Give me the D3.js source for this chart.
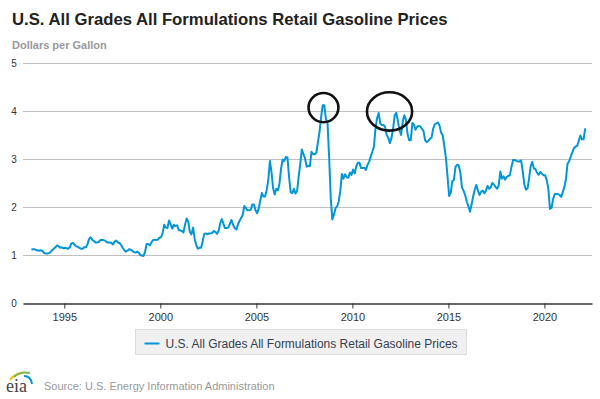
<!DOCTYPE html>
<html>
<head>
<meta charset="utf-8">
<script src="https://cdn.jsdelivr.net/npm/d3@7"></script>
<style>
  body { margin: 0; background: #fff; }
  svg { display: block; font-family: "Liberation Sans", Arial, sans-serif; }
</style>
</head>
<body>
<div id="chart"></div>
<script>
var chartTitle = "U.S. All Grades All Formulations Retail Gasoline Prices";
var unitLabel = "Dollars per Gallon";
var seriesName = "U.S. All Grades All Formulations Retail Gasoline Prices";
var sourceText = "Source: U.S. Energy Information Administration";

// monthly averages, first value is April 1993
var firstYear = 1993, firstMonth = 3;
var prices = [
  /*1993*/ 1.11, 1.12, 1.12, 1.10, 1.10, 1.09, 1.10, 1.08, 1.04,
  /*1994*/ 1.03, 1.03, 1.04, 1.06, 1.10, 1.13, 1.16, 1.20, 1.18, 1.15, 1.16, 1.14,
  /*1995*/ 1.15, 1.14, 1.13, 1.16, 1.24, 1.25, 1.21, 1.18, 1.17, 1.15, 1.13, 1.13,
  /*1996*/ 1.16, 1.16, 1.22, 1.33, 1.37, 1.32, 1.29, 1.26, 1.26, 1.27, 1.31, 1.31,
  /*1997*/ 1.31, 1.30, 1.27, 1.26, 1.26, 1.25, 1.22, 1.28, 1.30, 1.26, 1.25, 1.21,
  /*1998*/ 1.15, 1.10, 1.07, 1.09, 1.12, 1.11, 1.09, 1.06, 1.05, 1.07, 1.05, 1.00,
  /*1999*/ 0.99, 0.98, 1.06, 1.23, 1.23, 1.20, 1.26, 1.31, 1.32, 1.31, 1.32, 1.36,
  /*2000*/ 1.37, 1.46, 1.63, 1.57, 1.56, 1.72, 1.64, 1.55, 1.63, 1.60, 1.62, 1.52,
  /*2001*/ 1.51, 1.50, 1.47, 1.63, 1.76, 1.70, 1.48, 1.43, 1.57, 1.34, 1.20, 1.13,
  /*2002*/ 1.15, 1.15, 1.28, 1.44, 1.45, 1.43, 1.45, 1.45, 1.46, 1.50, 1.48, 1.44,
  /*2003*/ 1.51, 1.67, 1.75, 1.65, 1.56, 1.56, 1.57, 1.65, 1.73, 1.63, 1.56, 1.53,
  /*2004*/ 1.63, 1.71, 1.77, 1.83, 2.02, 1.98, 1.93, 1.93, 1.94, 2.05, 2.05, 1.93,
  /*2005*/ 1.87, 1.97, 2.13, 2.29, 2.22, 2.22, 2.35, 2.56, 2.96, 2.73, 2.39, 2.26,
  /*2006*/ 2.38, 2.35, 2.48, 2.80, 2.99, 2.96, 3.04, 3.03, 2.62, 2.31, 2.29, 2.38,
  /*2007*/ 2.28, 2.34, 2.62, 2.90, 3.20, 3.10, 3.01, 2.84, 2.86, 2.85, 3.15, 3.10,
  /*2008*/ 3.10, 3.13, 3.34, 3.56, 3.86, 4.12, 4.12, 3.83, 3.75, 3.05, 2.19, 1.74,
  /*2009*/ 1.84, 1.98, 2.01, 2.11, 2.33, 2.69, 2.59, 2.68, 2.62, 2.61, 2.72, 2.67,
  /*2010*/ 2.78, 2.70, 2.85, 2.92, 2.92, 2.81, 2.81, 2.82, 2.77, 2.88, 2.94, 3.05,
  /*2011*/ 3.15, 3.26, 3.62, 3.85, 3.96, 3.74, 3.71, 3.71, 3.67, 3.50, 3.44, 3.33,
  /*2012*/ 3.44, 3.64, 3.91, 3.96, 3.79, 3.60, 3.50, 3.78, 3.91, 3.82, 3.52, 3.39,
  /*2013*/ 3.39, 3.75, 3.72, 3.61, 3.67, 3.69, 3.68, 3.63, 3.58, 3.39, 3.35, 3.38,
  /*2014*/ 3.42, 3.45, 3.62, 3.72, 3.74, 3.76, 3.70, 3.55, 3.49, 3.27, 3.02, 2.64,
  /*2015*/ 2.23, 2.30, 2.54, 2.56, 2.83, 2.88, 2.87, 2.73, 2.41, 2.34, 2.25, 2.12,
  /*2016*/ 2.02, 1.90, 2.04, 2.22, 2.36, 2.46, 2.34, 2.25, 2.32, 2.34, 2.29, 2.34,
  /*2017*/ 2.44, 2.38, 2.41, 2.50, 2.47, 2.42, 2.38, 2.45, 2.74, 2.59, 2.64, 2.57,
  /*2018*/ 2.63, 2.65, 2.66, 2.84, 2.98, 2.98, 2.96, 2.95, 2.95, 2.97, 2.74, 2.47,
  /*2019*/ 2.36, 2.39, 2.59, 2.85, 2.94, 2.80, 2.79, 2.71, 2.67, 2.73, 2.69, 2.66,
  /*2020*/ 2.66, 2.55, 2.39, 1.96, 1.98, 2.17, 2.27, 2.27, 2.27, 2.25, 2.21, 2.31,
  /*2021*/ 2.42, 2.59, 2.90, 2.95, 3.05, 3.14, 3.22, 3.26, 3.27, 3.38, 3.49, 3.41,
  /*2022*/ 3.41, 3.64
];
var yTicks = [0, 1, 2, 3, 4, 5];
var xTickYears = [1995, 2000, 2005, 2010, 2015, 2020];
// periods circled by hand on the chart
var highlights = [["2007-09-20", "2009-04-10"], ["2010-10-05", "2013-02-10"]];

var width = 600, height = 399;
var margin = { top: 63, right: 8, bottom: 96, left: 23 };

var svg = d3.select("#chart").append("svg")
  .attr("width", width)
  .attr("height", height);

var data = prices.map(function (v, i) {
  return { date: new Date(firstYear, firstMonth + i, 15), value: v };
});

var x = d3.scaleTime()
  .domain([new Date(1992, 10, 6), new Date(2022, 5, 24)])
  .range([margin.left, width - margin.right]);

var y = d3.scaleLinear()
  .domain([0, 5])
  .range([height - margin.bottom, margin.top]);

// title
svg.append("text")
  .attr("x", 12).attr("y", 25)
  .style("font-size", "16.7px").style("font-weight", "bold")
  .style("fill", "#222")
  .text(chartTitle);

svg.append("text")
  .attr("x", 12).attr("y", 49)
  .style("font-size", "11px").style("font-weight", "bold")
  .style("fill", "#999")
  .text(unitLabel);

// grid + y labels
svg.append("g")
  .selectAll("line")
  .data(yTicks.filter(function (d) { return d > 0; }))
  .enter().append("line")
  .attr("x1", margin.left).attr("x2", width - margin.right)
  .attr("y1", function (d) { return y(d) + 0.5; })
  .attr("y2", function (d) { return y(d) + 0.5; })
  .style("stroke", "#c0c0c0").style("stroke-width", 1);

svg.append("g")
  .selectAll("text")
  .data(yTicks)
  .enter().append("text")
  .attr("x", 14)
  .attr("y", function (d) { return y(d) + 4; })
  .attr("text-anchor", "middle")
  .style("font-size", "10px").style("fill", "#333")
  .text(function (d) { return d; });

// x axis
var xAxis = svg.append("g")
  .attr("transform", "translate(0," + (y(0) + 0.5) + ")")
  .call(d3.axisBottom(x)
    .tickValues(xTickYears.map(function (yr) { return new Date(yr, 0, 1); }))
    .tickFormat(d3.timeFormat("%Y"))
    .tickSize(5)
    .tickSizeOuter(0));
xAxis.select(".domain").style("stroke", "#333").style("stroke-width", 1.3);
xAxis.selectAll(".tick line").style("stroke", "#333");
xAxis.selectAll(".tick text")
  .attr("dy", "0.9em")
  .style("font-size", "11px").style("fill", "#333")
  .style("font-family", "Liberation Sans, Arial, sans-serif");

// series line
var line = d3.line()
  .x(function (d) { return x(d.date); })
  .y(function (d) { return y(d.value); });

svg.append("path")
  .datum(data)
  .attr("d", line)
  .style("fill", "none")
  .style("stroke", "#0096d7")
  .style("stroke-width", 2)
  .style("stroke-linejoin", "round");

// hand drawn circles around the peaks
highlights.forEach(function (h) {
  var span = data.filter(function (d) {
    return d.date >= new Date(h[0]) && d.date <= new Date(h[1]);
  });
  var top = d3.max(span, function (d) { return d.value; });
  var x0 = x(new Date(h[0])), x1 = x(new Date(h[1]));
  var rx = (x1 - x0) / 2;
  var ry = Math.min(rx, 14 + (rx - 14) * 0.6);
  svg.append("ellipse")
    .attr("cx", (x0 + x1) / 2)
    .attr("cy", (y(top) + y(4)) / 2 - 0.5)
    .attr("rx", rx)
    .attr("ry", ry)
    .style("fill", "none")
    .style("stroke", "#111")
    .style("stroke-width", 2.6);
});

// legend
var legend = svg.append("g").attr("transform", "translate(135.5,329.5)");
legend.append("rect")
  .attr("width", 331).attr("height", 25)
  .style("fill", "#f0f0f0").style("stroke", "#dcdcdc");
legend.append("line")
  .attr("x1", 9).attr("x2", 24).attr("y1", 14).attr("y2", 14)
  .style("stroke", "#0096d7").style("stroke-width", 2);
legend.append("text")
  .attr("x", 30).attr("y", 18)
  .style("font-size", "12px").style("fill", "#333f4f")
  .text(seriesName);

// eia logo
var logo = svg.append("g").attr("transform", "translate(6,368)");
logo.append("path").attr("d", "M4,12 Q8,6 16,5").style("stroke", "#f2c200").style("stroke-width", 2).style("fill", "none");
logo.append("path").attr("d", "M8,9 Q14,3 24,5").style("stroke", "#7ab648").style("stroke-width", 2).style("fill", "none");
logo.append("path").attr("d", "M18,8 Q25,8 26,16").style("stroke", "#0096d7").style("stroke-width", 2).style("fill", "none");
logo.append("text")
  .attr("x", 0).attr("y", 24)
  .style("font-family", "Liberation Serif, serif")
  .style("font-size", "18px").style("fill", "#444")
  .text("eia");

svg.append("text")
  .attr("x", 44).attr("y", 390)
  .style("font-size", "11px").style("fill", "#999")
  .text(sourceText);
</script>
</body>
</html>
